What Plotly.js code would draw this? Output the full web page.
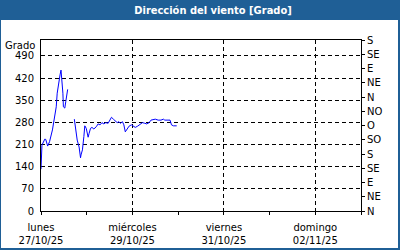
<!DOCTYPE html>
<html>
<head>
<meta charset="utf-8">
<script src="https://cdn.plot.ly/plotly-3.0.1.min.js"></script>
<style>html,body{margin:0;padding:0;background:#fff;}#chart{width:400px;height:250px;}</style>
</head>
<body>
<div id="chart"></div>
<script>
const times = [
 '2025-10-27 00:00','2025-10-27 00:30','2025-10-27 02:00','2025-10-27 02:30','2025-10-27 03:30',
 '2025-10-27 04:30','2025-10-27 06:00','2025-10-27 06:30','2025-10-27 07:00','2025-10-27 08:00',
 '2025-10-27 08:30','2025-10-27 09:30','2025-10-27 10:00','2025-10-27 10:30','2025-10-27 11:00',
 '2025-10-27 11:30','2025-10-27 11:45','2025-10-27 12:30','2025-10-27 13:00','2025-10-27 13:30',
 '2025-10-27 14:00','2025-10-27 15:30',
 '2025-10-27 17:30','2025-10-27 18:00','2025-10-27 18:30','2025-10-27 19:00','2025-10-27 20:00',
 '2025-10-27 20:30','2025-10-27 20:45','2025-10-27 21:00','2025-10-27 21:45','2025-10-27 22:30',
 '2025-10-27 23:00','2025-10-27 23:45','2025-10-28 00:15','2025-10-28 00:45','2025-10-28 01:15',
 '2025-10-28 02:00','2025-10-28 02:45','2025-10-28 03:45','2025-10-28 05:00','2025-10-28 06:00',
 '2025-10-28 07:00','2025-10-28 08:00','2025-10-28 09:00','2025-10-28 10:00','2025-10-28 11:15',
 '2025-10-28 12:15','2025-10-28 13:00','2025-10-28 14:00','2025-10-28 15:00','2025-10-28 16:00',
 '2025-10-28 16:45','2025-10-28 17:45','2025-10-28 18:45','2025-10-28 19:30','2025-10-28 20:15',
 '2025-10-28 21:00','2025-10-28 21:30','2025-10-28 22:15','2025-10-28 23:30','2025-10-29 01:30',
 '2025-10-29 02:45','2025-10-29 04:00','2025-10-29 05:15','2025-10-29 06:30','2025-10-29 07:30',
 '2025-10-29 08:45','2025-10-29 09:45','2025-10-29 12:00','2025-10-29 13:30','2025-10-29 15:00',
 '2025-10-29 16:15','2025-10-29 17:00','2025-10-29 18:45','2025-10-29 19:45','2025-10-29 20:30',
 '2025-10-29 21:30','2025-10-29 23:15'
];
const direction = [
 132,208,227,226,205,
 219,256,272,287,329,
 372,420,430,445,413,
 372,329,325,345,372,
 384,null,
 290,262,240,224,202,
 171,168,177,193,235,
 269,261,240,233,245,
 261,264,259,266,275,
 272,279,275,279,277,
 290,296,290,283,279,
 282,277,282,272,250,
 256,261,268,272,264,
 268,275,279,277,275,
 279,287,290,287,287,
 290,287,287,287,272,
 269,269
];
const leftTicks = [0,70,140,210,280,350,420,490];
const rightTickVals = [0,45,90,135,180,225,270,315,360,405,450,495,540];
const rightTickText = ['N','NE','E','SE','S','SO','O','NO','N','NE','E','SE','S'];
const xTickVals = ['2025-10-27','2025-10-29','2025-10-31','2025-11-02'];
const xTickText = ['lunes<br>27/10/25','miércoles<br>29/10/25','viernes<br>31/10/25','domingo<br>02/11/25'];
const titleText = 'Dirección del viento [Grado]';
const unitText = 'Grado';

const font = {family:'DejaVu Sans, Verdana, sans-serif', size:10, color:'#000'};
const L=41, R=361, T=40, B=211, W=400, H=250;
const pw=R-L, ph=B-T;
const px = v => (v-L)/pw;
const py = v => (B-v)/ph;

const trace = {x:times, y:direction, type:'scatter', mode:'lines', line:{color:'#0000ff', width:1}, connectgaps:false, hoverinfo:'skip'};
const dummy = {x:[times[0]], y:[0], yaxis:'y2', type:'scatter', mode:'markers', marker:{opacity:0}, hoverinfo:'skip', showlegend:false};

const layout = {
  width:W, height:H,
  margin:{l:L, r:W-R, t:T, b:H-B, pad:0},
  paper_bgcolor:'#1f5f96', plot_bgcolor:'rgba(0,0,0,0)',
  showlegend:false,
  font:font,
  title:{text:titleText, font:{family:'DejaVu Sans Condensed, DejaVu Sans, sans-serif', size:11, color:'#fff', weight:'bold'}, x:213/W, xanchor:'center', xref:'container', y:1-10/H, yanchor:'middle', yref:'container'},
  xaxis:{type:'date', range:['2025-10-27 00:00','2025-11-03 00:00'], tickvals:xTickVals, ticktext:xTickText,
    ticks:'outside', ticklen:3, tickcolor:'#000', showline:true, linecolor:'#000', linewidth:1, mirror:true,
    showgrid:true, gridcolor:'#000', griddash:'4px,3px', gridwidth:1, zeroline:false, tickfont:font, ticklabelstandoff:4,
    minor:{dtick:86400000, tick0:'2025-10-27', ticks:'outside', ticklen:3, tickcolor:'#000', showgrid:false},
    fixedrange:true},
  yaxis:{range:[0,540], tickvals:leftTicks, ticks:'', showline:true, linecolor:'#000', linewidth:1, mirror:true,
    showgrid:true, gridcolor:'#000', griddash:'4px,3px', gridwidth:1, zeroline:false, tickfont:font, ticklabelstandoff:4, fixedrange:true},
  yaxis2:{range:[0,540], overlaying:'y', side:'right', tickvals:rightTickVals, ticktext:rightTickText,
    ticks:'outside', ticklen:3, tickcolor:'#000', showline:true, linecolor:'#000', showgrid:false, zeroline:false, tickfont:font, ticklabelstandoff:0, fixedrange:true},
  shapes:[{type:'rect', xref:'paper', yref:'paper', x0:px(1), x1:px(398), y0:py(248), y1:py(20), fillcolor:'#fff', line:{width:0}, layer:'below'}],
  annotations:[{text:unitText, xref:'paper', yref:'paper', x:px(37), y:py(45.5), xanchor:'right', yanchor:'middle', showarrow:false, font:font}]
};
Plotly.newPlot('chart',[trace,dummy],layout,{displayModeBar:false, staticPlot:true});
</script>
</body>
</html>
